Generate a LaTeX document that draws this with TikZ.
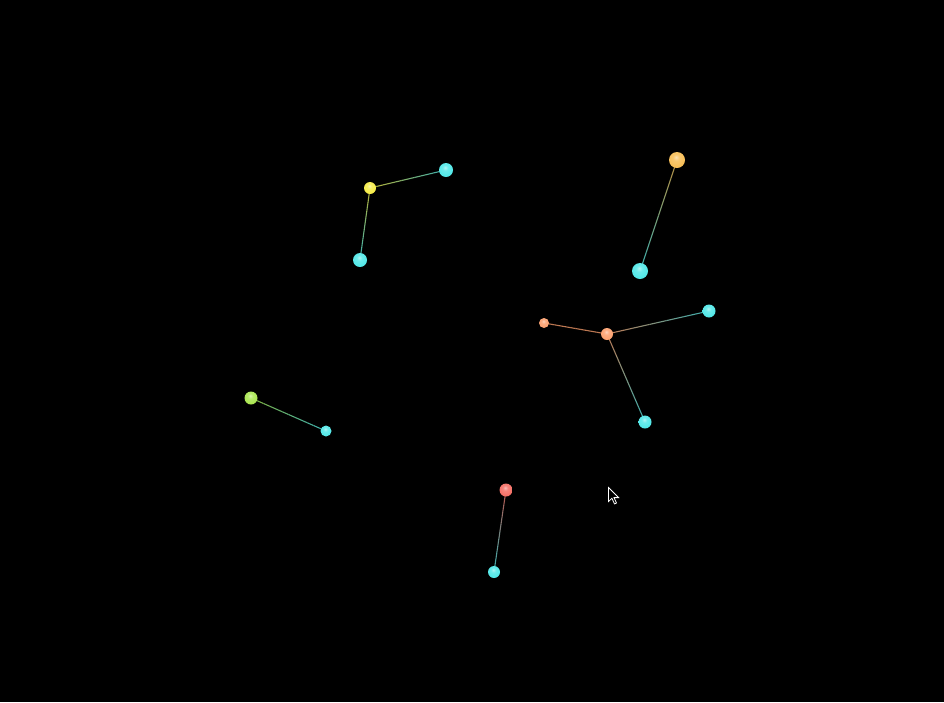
\documentclass[tikz,border=0pt]{standalone}
\usetikzlibrary{calc}
\pgfdeclarelayer{back}
\pgfdeclarelayer{edges}
\pgfsetlayers{back,edges,main}
\definecolor{cyanball}{RGB}{80,232,232}
\definecolor{yellowball}{RGB}{245,235,70}
\definecolor{goldball}{RGB}{248,190,85}
\definecolor{salmonball}{RGB}{252,160,110}
\definecolor{greenball}{RGB}{170,230,80}
\definecolor{redball}{RGB}{245,110,100}
\makeatletter
\pgfdeclareradialshading[tikz@ball]{softball}{\pgfqpoint{-3bp}{9bp}}{%
  color(0bp)=(tikz@ball!45!white);
  color(10bp)=(tikz@ball!85!white);
  color(28bp)=(tikz@ball);
  color(42bp)=(tikz@ball!80!black);
  color(50bp)=(tikz@ball!65!black);
  color(70bp)=(tikz@ball!65!black)}
\makeatother
\tikzset{
  ball/.style={circle, inner sep=0pt, ball color=#1, shading=softball},
  edge/.style={line width=1.1pt, opacity=0.75, line cap=butt},
}
\newcommand\gline[4]{%
  \foreach \i in {0,...,11}{%
    \pgfmathsetmacro\tA{\i/12}%
    \pgfmathsetmacro\tB{(\i+1)/12}%
    \pgfmathtruncatemacro\pc{100-100*(\i+0.5)/12}%
    \draw[edge, draw={#3!\pc!#4}] ($(#1)!\tA!(#2)$) -- ($(#1)!\tB!(#2)$);
  }%
}
\begin{document}
\begin{tikzpicture}[x=1pt,y=-1pt]
\begin{pgfonlayer}{back}
\fill[black] (0,0) rectangle (944,702);
\end{pgfonlayer}
\useasboundingbox (0,0) rectangle (944,702);
% nodes
\node[ball=yellowball, minimum size=12pt] (y1) at (370,188) {};
\node[ball=cyanball, minimum size=14pt] (c1) at (446,170) {};
\node[ball=cyanball, minimum size=14pt] (c2) at (360,260) {};
\node[ball=goldball, minimum size=16pt] (o1) at (677,160) {};
\node[ball=cyanball, minimum size=16pt] (c3) at (640,271) {};
\node[ball=salmonball, minimum size=10pt] (o2) at (544,323) {};
\node[ball=salmonball, minimum size=12pt] (o3) at (607,334) {};
\node[ball=cyanball, minimum size=13pt] (c4) at (709,311) {};
\node[ball=cyanball, minimum size=13pt] (c5) at (645,422) {};
\node[ball=greenball, minimum size=13pt] (g1) at (251,398) {};
\node[ball=cyanball, minimum size=11pt] (c6) at (326,431) {};
\node[ball=redball, minimum size=13pt] (r1) at (506,490) {};
\node[ball=cyanball, minimum size=12pt] (c7) at (494,572) {};
% edges
\begin{pgfonlayer}{edges}
\gline{y1.center}{c1.center}{yellowball}{cyanball}
\gline{y1.center}{c2.center}{yellowball}{cyanball}
\gline{o1.center}{c3.center}{goldball}{cyanball}
\gline{o3.center}{o2.center}{salmonball}{salmonball}
\gline{o3.center}{c4.center}{salmonball}{cyanball}
\gline{o3.center}{c5.center}{salmonball}{cyanball}
\gline{g1.center}{c6.center}{greenball}{cyanball}
\gline{r1.center}{c7.center}{redball}{cyanball}
\end{pgfonlayer}
% mouse cursor
\draw[white, fill=black, line width=0.8pt, line join=miter]
  (608.5,487.5) -- ++(0,14) -- ++(3.4,-3.2) -- ++(2.6,5.6) -- ++(2,-0.9) -- ++(-2.5,-5.4) -- ++(4.6,0) -- cycle;
\end{tikzpicture}
\end{document}
